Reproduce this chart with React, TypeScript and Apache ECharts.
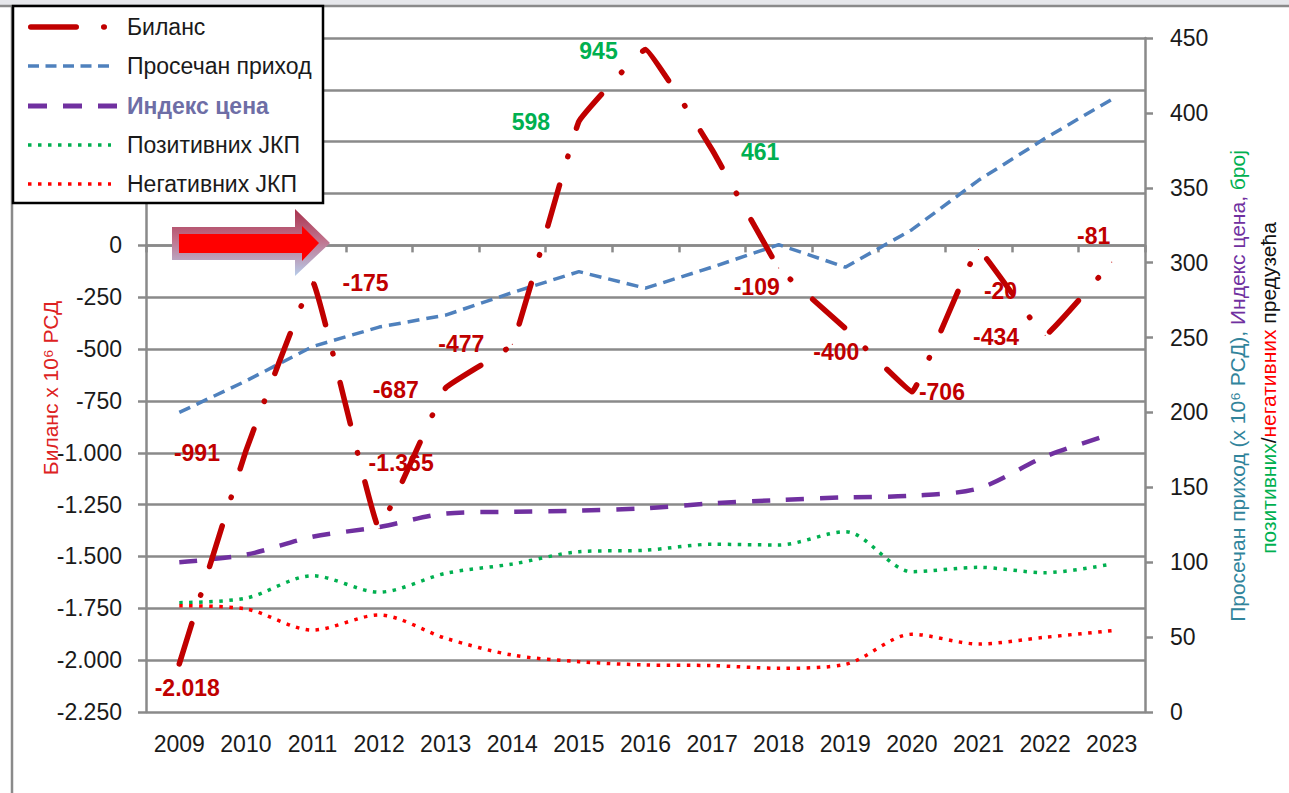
import React, { useEffect, useRef } from "react";
import * as echarts from "echarts";

const years = ["2009", "2010", "2011", "2012", "2013", "2014", "2015", "2016", "2017", "2018", "2019", "2020", "2021", "2022", "2023"];
const balance = [-2018, -991, -175, -1365, -687, -477, 598, 945, 461, -109, -400, -706, -20, -434, -81];
const avgIncome = [200, 221, 244, 257, 265, 280, 294, 283, 297, 312, 297, 322, 355, 383, 409];
const priceIndex = [100, 105, 117, 123.5, 132.5, 133.7, 134.4, 136, 139.3, 141.5, 143.3, 144.4, 149.3, 170.5, 185.6];
const positiveJKP = [73, 76, 91, 80, 92.6, 98.8, 107, 108, 112, 111.5, 120.4, 93.7, 96.6, 93, 98.8];
const negativeJKP = [71, 68.8, 54.7, 64.8, 49.2, 38, 33.6, 31.4, 31, 29.2, 31.8, 51.9, 45.4, 49.9, 54.3];

const seriesNames = ["Биланс", "Просечан приход", "Индекс цена", "Позитивних ЈКП", "Негативних ЈКП"];

// label placement (styling, not data)
const labelOffsets: [number, number][] = [
  [8, 24], [-49, 2], [53, 1], [22, -65], [-50, 2], [-51, 0], [-48, 1], [-47, 2],
  [48, 2], [-22, 19], [-9, 24], [30, 0], [22, 41], [-49, 2], [-18, -26],
];

const FONT = "'Liberation Sans', Arial, sans-serif";

function fmt(v: number): string {
  const a = Math.abs(v);
  const s = a >= 1000 ? Math.floor(a / 1000) + "." + String(a % 1000).padStart(3, "0") : String(a);
  return (v < 0 ? "-" : "") + s;
}

export default function App() {
  const ref = useRef<HTMLDivElement>(null);
  useEffect(() => {
    if (!ref.current) return;
    const chart = echarts.init(ref.current, null, { renderer: "svg" });
    const gray = "#8A8A8A";
    const legendY = [27, 66, 106, 145, 184];
    const option: any = {
      animation: false,
      backgroundColor: "#ffffff",
      grid: { left: 146, right: 144, top: 38, bottom: 81 },
      xAxis: {
        type: "category",
        data: years,
        boundaryGap: true,
        axisLine: { lineStyle: { color: gray, width: 2.5 } },
        axisTick: { show: true, length: 7, lineStyle: { color: gray, width: 2.5 } },
        axisLabel: { fontSize: 23, color: "#1a1a1a", margin: 20, fontFamily: FONT },
      },
      yAxis: [
        {
          type: "value",
          min: -2250,
          max: 1000,
          interval: 250,
          axisLine: { show: true, lineStyle: { color: gray, width: 2.5 } },
          axisTick: { show: true, length: 8, lineStyle: { color: gray, width: 2.5 } },
          axisLabel: {
            fontSize: 23,
            color: "#1a1a1a",
            margin: 24,
            fontFamily: FONT,
            formatter: (v: number) => (v > 0 ? "" : fmt(v)),
          },
          splitLine: { show: true, lineStyle: { color: gray, width: 2.5 } },
        },
        {
          type: "value",
          position: "right",
          min: 0,
          max: 450,
          interval: 50,
          axisLine: { show: true, lineStyle: { color: gray, width: 2.5 } },
          axisTick: { show: true, length: 8, lineStyle: { color: gray, width: 2.5 } },
          axisLabel: { fontSize: 23, color: "#1a1a1a", margin: 25, fontFamily: FONT },
          splitLine: { show: false },
        },
      ],
      series: [
        {
          name: seriesNames[1],
          type: "line",
          yAxisIndex: 1,
          data: avgIncome,
          symbol: "none",
          lineStyle: { color: "#4F81BD", width: 3.5, type: [12, 7] },
          z: 3,
        },
        {
          name: seriesNames[2],
          type: "line",
          yAxisIndex: 1,
          data: priceIndex,
          symbol: "none",
          smooth: 0.3,
          lineStyle: { color: "#7030A0", width: 4.5, type: [18, 16] },
          z: 3,
        },
        {
          name: seriesNames[3],
          type: "line",
          yAxisIndex: 1,
          data: positiveJKP,
          symbol: "none",
          smooth: 0.3,
          lineStyle: { color: "#00B050", width: 3.5, type: [3.5, 6.5] },
          z: 3,
        },
        {
          name: seriesNames[4],
          type: "line",
          yAxisIndex: 1,
          data: negativeJKP,
          symbol: "none",
          smooth: 0.3,
          lineStyle: { color: "#FF0000", width: 3.5, type: [3.5, 6.5] },
          z: 3,
        },
        {
          name: seriesNames[0],
          type: "line",
          yAxisIndex: 0,
          data: balance.map((v, i) => ({
            value: v,
            label: { offset: labelOffsets[i], color: v > 0 ? "#00B050" : "#C00000" },
          })),
          symbol: "circle",
          symbolSize: 1,
          showSymbol: true,
          smooth: 0.07,
          itemStyle: { color: "#C00000" },
          lineStyle: { color: "#C00000", width: 5.5, type: [42.5, 29.5, 0.5, 29.5], cap: "round" },
          label: {
            show: true,
            position: "inside",
            fontSize: 23,
            fontWeight: "bold",
            fontFamily: FONT,
            formatter: (p: any) => fmt(p.value),
          },
          z: 5,
        },
      ],
      graphic: [
        // frame
        { type: "rect", shape: { x: 0, y: 0, width: 1289, height: 5 }, style: { fill: "#E6E7EB" }, z: 20, silent: true },
        { type: "line", shape: { x1: 0, y1: 6, x2: 1289, y2: 6 }, style: { stroke: gray, lineWidth: 2.5 }, z: 20, silent: true },
        { type: "line", shape: { x1: 12, y1: 6, x2: 12, y2: 793 }, style: { stroke: gray, lineWidth: 2.5 }, z: 20, silent: true },
        // arrow
        {
          type: "polygon",
          z: 15,
          shape: { points: [[172, 227], [295, 227], [295, 209], [330, 243], [295, 276], [295, 260], [172, 260]] },
          style: {
            fill: new echarts.graphic.LinearGradient(0, 0, 0, 1, [
              { offset: 0, color: "#A8324E" },
              { offset: 0.45, color: "#C0708A" },
              { offset: 1, color: "#B6CCEA" },
            ]),
          },
        },
        {
          type: "polygon",
          z: 16,
          shape: { points: [[179, 234], [302, 234], [302, 226], [319, 243], [302, 261], [302, 253], [179, 253]] },
          style: { fill: "#FF0000" },
        },
        // legend box
        { type: "rect", z: 30, shape: { x: 13, y: 6, width: 310, height: 197 }, style: { fill: "#fff", stroke: "#000", lineWidth: 2.5 } },
        { type: "line", z: 31, shape: { x1: 30.75, y1: legendY[0], x2: 106, y2: legendY[0] }, style: { stroke: "#C00000", lineWidth: 5.5, lineCap: "round", lineDash: [45.5, 27.5, 0.5, 40] } },
        { type: "line", z: 31, shape: { x1: 28, y1: legendY[1], x2: 110, y2: legendY[1] }, style: { stroke: "#4F81BD", lineWidth: 3.5, lineDash: [11, 6.5] } },
        { type: "line", z: 31, shape: { x1: 28, y1: legendY[2], x2: 117, y2: legendY[2] }, style: { stroke: "#7030A0", lineWidth: 5, lineDash: [19, 16] } },
        { type: "line", z: 31, shape: { x1: 28, y1: legendY[3], x2: 111, y2: legendY[3] }, style: { stroke: "#00B050", lineWidth: 3.5, lineDash: [3.5, 6.5] } },
        { type: "line", z: 31, shape: { x1: 28, y1: legendY[4], x2: 111, y2: legendY[4] }, style: { stroke: "#FF0000", lineWidth: 3.5, lineDash: [3.5, 6.5] } },
        ...seriesNames.map((n, i) => ({
          type: "text",
          z: 31,
          x: 127,
          y: legendY[i],
          style: {
            text: n,
            font: (i === 2 ? "bold " : "") + "23px " + FONT,
            fill: i === 2 ? "#6E6EA6" : "#1a1a1a",
            verticalAlign: "middle",
            align: "left",
          },
        })),
        // left axis title
        {
          type: "text",
          z: 20,
          x: 50,
          y: 388,
          rotation: Math.PI / 2,
          style: {
            text: "Биланс x 10⁶ РСД",
            font: "21px " + FONT,
            fill: "#DD2222",
            align: "center",
            verticalAlign: "middle",
          },
        },
        // right axis title
        {
          type: "text",
          z: 20,
          x: 1237,
          y: 386,
          rotation: Math.PI / 2,
          style: {
            text: "{a|Просечан приход (x 10⁶ РСД),} {b|Индекс цена,} {c|број}",
            font: "21px " + FONT,
            align: "center",
            verticalAlign: "middle",
            rich: {
              a: { fill: "#31849B", font: "21px " + FONT },
              b: { fill: "#7030A0", font: "21px " + FONT },
              c: { fill: "#00B050", font: "21px " + FONT },
            },
          },
        },
        {
          type: "text",
          z: 20,
          x: 1268,
          y: 388,
          rotation: Math.PI / 2,
          style: {
            text: "{c|позитивних}{k|/}{r|негативних} {k|предузећа}",
            font: "21px " + FONT,
            align: "center",
            verticalAlign: "middle",
            rich: {
              c: { fill: "#00B050", font: "21px " + FONT },
              k: { fill: "#111111", font: "21px " + FONT },
              r: { fill: "#FF0000", font: "21px " + FONT },
            },
          },
        },
      ],
    };
    chart.setOption(option);
    return () => chart.dispose();
  }, []);
  return <div ref={ref} style={{ position: "absolute", left: 0, top: 0, width: 1289, height: 793 }} />;
}
